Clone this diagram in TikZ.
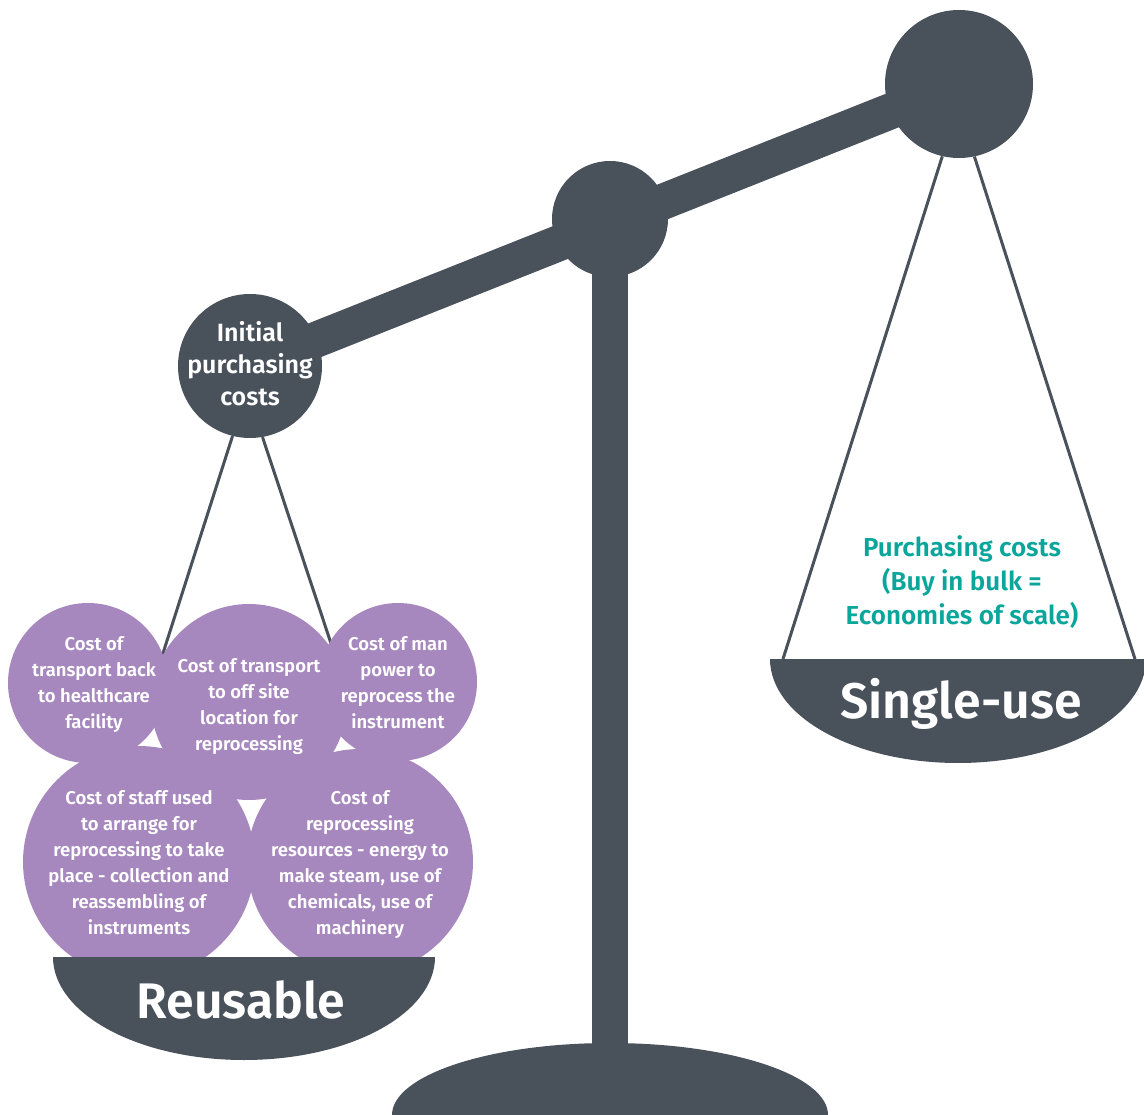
\documentclass[tikz,border=0pt]{standalone}
\usepackage{fontspec}
\setmainfont{Fira Sans}[UprightFont=* SemiBold, BoldFont=* Bold]
\usetikzlibrary{backgrounds}
\definecolor{slate}{HTML}{49515B}
\definecolor{lilac}{HTML}{A688BE}
\definecolor{bulkteal}{HTML}{0AA69B}
\begin{document}
\begin{tikzpicture}[x=1pt, y=-1pt]\tikzstyle{every node}=[font=\fontsize{18.5}{26}\selectfont, align=center, text=white]
\tikzstyle{head}=[circle, fill=slate, inner sep=0pt]
\tikzstyle{bubble}=[circle, fill=lilac, inner sep=0pt]
\tikzstyle{cord}=[slate, line width=3pt]
\useasboundingbox (0,0) rectangle (1144,1115);
%%%%%%%%%%%%% beam heads
\node[head, minimum size=144pt] (initial) at (250,366) {};
\node[head, minimum size=116pt] (pivot) at (610,219) {};
\node[head, minimum size=148pt] (weight) at (959,84) {};
\node[font=\fontsize{25}{32}\selectfont] (initialtxt) at (250,364) {Initial\\purchasing\\costs};
\coordinate (foot) at (610,1080);
\coordinate (lpanL) at (116,800);
\coordinate (lpanR) at (383,800);
\coordinate (rpanL) at (783,659);
\coordinate (rpanR) at (1135,659);
%%%%%%%%%%%%% beam, pole and cords
\begin{scope}[on background layer]
\draw[slate, line width=36pt] (initial.center) -- (weight.center);
\draw[slate, line width=36pt] (pivot.center) -- (foot);
\draw[cord] (initial.-104) -- (lpanL);
\draw[cord] (initial.-80) -- (lpanR);
\draw[cord] (weight.-103) -- (rpanL);
\draw[cord] (weight.-78) -- (rpanR);
\end{scope}
%%%%%%%%%%%%% cost bubbles
\node[bubble, minimum size=160pt] (back) at (88,683) {};
\node[bubble, minimum size=196pt] (offsite) at (249,702) {};
\node[bubble, minimum size=158pt] (manpower) at (398,682) {};
\node[bubble, minimum size=232pt] (staff) at (139,862) {};
\node[bubble, minimum size=226pt] (resources) at (360,862) {};
\node (backtxt) at (94,685) {Cost of\\transport back\\to healthcare\\facility};
\node (offsitetxt) at (249,707) {Cost of transport\\to off site\\location for\\reprocessing};
\node (manpowertxt) at (398,683) {Cost of man\\power to\\reprocess the\\instrument};
\node (stafftxt) at (139,863) {Cost of staff used\\to arrange for\\reprocessing to take\\place - collection and\\reassembling of\\instruments};
\node (resourcestxt) at (360,865) {Cost of\\reprocessing\\resources - energy to\\make steam, use of\\chemicals, use of\\machinery};
%%%%%%%%%%%%% pans and base
\fill[slate] (53,957) -- (435,957) arc[start angle=0, end angle=180, x radius=191, y radius=103] -- cycle;
\fill[slate] (770,659) -- (1146,659) arc[start angle=0, end angle=180, x radius=188, y radius=104] -- cycle;
\fill[slate] (392,1115) arc[start angle=180, end angle=360, x radius=218, y radius=72] -- cycle;
\node[font=\fontsize{50}{60}\selectfont] (reusable) at (241,1000) {Reusable};
\node[font=\fontsize{50}{60}\selectfont] (singleuse) at (961,704) {Single-use};
\node[text=bulkteal, font=\fontsize{26}{34}\selectfont] (bulk) at (962,582) {Purchasing costs\\(Buy in bulk =\\Economies of scale)};
\end{tikzpicture}
\end{document}
